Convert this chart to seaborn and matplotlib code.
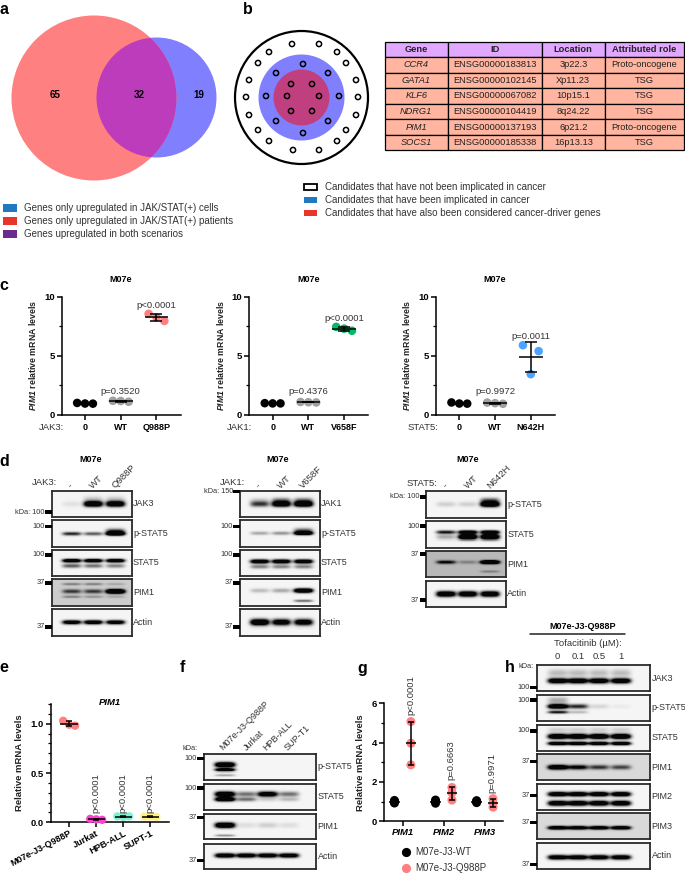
import numpy as np
import pandas as pd
import matplotlib
matplotlib.use('Agg')
import matplotlib.pyplot as plt
from matplotlib.patches import Circle, Rectangle
import seaborn as sns

W, H = 685, 875

# values
VENN_COUNTS = [65, 32, 19]
LEGEND_A = ['Genes only upregulated in JAK/STAT(+) cells',
            'Genes only upregulated in JAK/STAT(+) patients',
            'Genes upregulated in both scenarios']
LEGEND_A_COLORS = ['#1F78C0', '#E8352B', '#6B2A90']
LEGEND_B = ['Candidates that have not been implicated in cancer',
            'Candidates that have been implicated in cancer',
            'Candidates that have also been considered cancer-driver genes']
TABLE_HEAD = ['Gene', 'ID', 'Location', 'Attributed role']
TABLE_GENES = ['CCR4', 'GATA1', 'KLF6', 'NDRG1', 'PIM1', 'SOCS1']
TABLE_IDS = ['ENSG00000183813', 'ENSG00000102145', 'ENSG00000067082',
             'ENSG00000104419', 'ENSG00000137193', 'ENSG00000185338']
TABLE_LOCS = ['3p22.3', 'Xp11.23', '10p15.1', '8q24.22', '6p21.2', '16p13.13']
TABLE_ROLES = ['Proto-oncogene', 'TSG', 'TSG', 'TSG', 'Proto-oncogene', 'TSG']

# schematic dots in panel b (pixel positions)
RING_OUTER = [(292, 44), (319, 44), (269, 52), (337, 52), (258, 63), (346, 63),
              (249, 80), (356, 80), (246, 97), (358, 97), (249, 115), (356, 115),
              (258, 130), (346, 130), (269, 141), (337, 141), (293, 150), (319, 150)]
RING_MID = [(303, 64), (276, 73), (328, 73), (266, 96), (339, 96), (276, 121),
            (328, 121), (303, 133)]
RING_INNER = [(291, 84), (312, 84), (287, 96), (319, 96), (291, 111), (312, 111)]

C1_LABELS = ['0', 'WT', 'Q988P']
C1_VALUES = [[1.02, 0.97, 0.96], [1.2, 1.18, 1.12], [8.55, 8.25, 7.95]]
C1_P = ['p=0.3520', 'p<0.0001']
C2_LABELS = ['0', 'WT', 'V658F']
C2_VALUES = [[1.0, 0.98, 0.98], [1.1, 1.08, 1.06], [7.45, 7.3, 7.12]]
C2_P = ['p=0.4376', 'p<0.0001']
C3_LABELS = ['0', 'WT', 'N642H']
C3_VALUES = [[1.06, 0.97, 0.96], [1.05, 1.0, 0.95], [5.9, 3.45, 5.4]]
C3_P = ['p=0.9972', 'p=0.0011']

E_LABELS = ['M07e-J3-Q988P', 'Jurkat', 'HPB-ALL', 'SUPT-1']
E_VALUES = [[1.03, 0.99, 0.98], [0.035, 0.03, 0.025], [0.06, 0.055, 0.06], [0.06, 0.06, 0.055]]
E_COLORS = ['#FF8080', '#FF40D0', '#80F0D0', '#FFF080']
E_P = ['p<0.0001', 'p<0.0001', 'p<0.0001']

G_GENES = ['PIM1', 'PIM2', 'PIM3']
G_WT = [[1.06, 1.0, 0.93], [1.08, 1.0, 0.92], [1.05, 1.0, 0.95]]
G_MUT = [[5.07, 3.97, 2.87], [1.72, 1.45, 1.08], [1.15, 0.92, 0.72]]
G_P = ['p<0.0001', 'p=0.6663', 'p=0.9971']

# blots: one list per membrane, bands as (height, thickness, strength per lane)
D1_JAK3 = [(.5, .10, [.05, 1, .95]), (.36, .14, [0, .15, .15])]
D1_PSTAT = [(.52, .07, [.55, .4, 1]), (.44, .11, [0, 0, .6])]
D1_STAT = [(.42, .07, [1, 1, 1]), (.62, .08, [.4, .35, .3])]
D1_PIM = [(.45, .08, [.4, .4, 1.2]), (.18, .05, [.2, .2, .1]), (.65, .05, [.2, .15, .1])]
D1_ACT = [(.5, .08, [.9, .95, .9])]
D2_JAK = [(.5, .1, [.5, 1, 1.1]), (.36, .1, [.1, .3, .3])]
D2_PSTAT = [(.5, .07, [.2, .25, 1.1]), (.4, .1, [0, 0, .4])]
D2_STAT = [(.45, .08, [1, 1, 1]), (.65, .08, [.3, .3, .3])]
D2_PIM = [(.42, .08, [.15, .2, 1.2]), (.8, .05, [0, 0, .35])]
D2_ACT = [(.5, .12, [1.1, .9, .9])]
D3_PSTAT = [(.5, .1, [.1, .1, 1.2]), (.35, .1, [0, 0, .4])]
D3_STAT = [(.42, .07, [.6, 1, 1]), (.6, .1, [.2, 1.2, 1.2])]
D3_PIM = [(.42, .07, [.5, .15, 1.1]), (.78, .05, [0, 0, .15])]
D3_ACT = [(.5, .1, [1, 1, 1])]
F_PSTAT = [(.42, .1, [1.2, 0, 0, 0]), (.62, .06, [1, 0, 0, 0]), (.82, .05, [.2, 0, 0, 0])]
F_STAT = [(.4, .1, [1.1, .35, .95, .35]), (.6, .08, [1.1, .35, .1, .15])]
F_PIM = [(.45, .1, [1.1, .06, .1, .06]), (.85, .05, [.25, 0, 0, 0])]
F_ACT = [(.47, .09, [1, .95, .95, .95])]
H_JAK = [(.6, .1, [1, 1, 1, 1]), (.3, .15, [.15, .15, .15, .15])]
H_PSTAT = [(.43, .09, [1.1, .55, .08, .03]), (.65, .06, [.6, .15, 0, 0]), (.2, .13, [.2, 0, 0, 0])]
H_STAT = [(.45, .1, [1.1, 1.1, 1.1, 1.1]), (.72, .07, [1, 1, 1, 1]), (.2, .1, [.1, .1, .1, .1])]
H_PIM1 = [(.5, .09, [1, .65, .45, .4])]
H_PIM2 = [(.4, .09, [1, 1, 1, 1]), (.75, .1, [1, 1, 1, 1])]
H_PIM3 = [(.56, .07, [.95, .9, .9, .9])]
H_ACT = [(.56, .09, [.95, .95, .95, .95])]

sns.set_theme(style='ticks')
plt.rcParams['font.family'] = ['Liberation Sans', 'DejaVu Sans']
plt.rcParams['text.color'] = '#222222'
plt.rcParams['mathtext.fontset'] = 'custom'
plt.rcParams['mathtext.bfit'] = 'Liberation Sans:italic:bold'

fig = plt.figure(figsize=(W / 100, H / 100), dpi=100)


def place(x0, y0, x1, y1):
    return fig.add_axes([x0 / W, 1 - y1 / H, (x1 - x0) / W, (y1 - y0) / H])


ov = fig.add_axes([0, 0, 1, 1], zorder=10)
ov.set_xlim(0, W)
ov.set_ylim(H, 0)
ov.axis('off')
ov.patch.set_alpha(0)

# panel letters
for s, x, y in [('a', 4, 9), ('b', 248, 9), ('c', 4, 286), ('d', 4, 461),
                ('e', 4, 668), ('f', 182, 667), ('g', 362, 669), ('h', 510, 667)]:
    ov.text(x, y, s, fontsize=11.5, fontweight='bold', color='black', ha='center', va='center')

# a: venn
red = Circle((94, 98), 82.5, fc='#FF8080', ec='none')
blue = Circle((156.5, 97.5), 60, fc='#8080FF', ec='none')
both = Circle((156.5, 97.5), 60, fc='#BC3CBC', ec='none')
ov.add_patch(blue)
ov.add_patch(red)
ov.add_patch(both)
both.set_clip_path(Circle((94, 98), 82.5, transform=ov.transData))
for v, x in zip(VENN_COUNTS, [55, 139, 199]):
    ov.text(x, 94.5, str(v), fontsize=7, fontweight='bold', color='black', ha='center', va='center')
for i, (t, c) in enumerate(zip(LEGEND_A, LEGEND_A_COLORS)):
    y = 208 + i * 13
    ov.add_patch(Rectangle((3.5, y - 3.7), 14, 7.4, fc=c, ec='none'))
    ov.text(24, y, t, fontsize=7.05, va='center', color='#333333')

# b: nested circles
ov.add_patch(Circle((301.5, 97.5), 66.5, fc='white', ec='black', lw=1.6))
ov.add_patch(Circle((301.5, 97.5), 43, fc='#8080FF', ec='none'))
ov.add_patch(Circle((301.5, 97.5), 28, fc='#BF3F7F', ec='none'))
dots = np.array(RING_OUTER + RING_MID + RING_INNER)
ov.scatter(dots[:, 0], dots[:, 1], s=14, fc='none', ec='black', lw=1.1)
for i, (t, c) in enumerate(zip(LEGEND_B, ['white', '#1F78C0', '#E8352B'])):
    y = 187 + i * 13
    ov.add_patch(Rectangle((304.5, y - 3.2), 12.5, 6.4, fc=c, ec='black' if i == 0 else 'none', lw=1.3))
    ov.text(325, y, t, fontsize=7.05, va='center', color='#333333')

# b: table
tab_ax = place(384.6, 41.7, 684, 150.3)
tab_ax.axis('off')
rows = list(zip(TABLE_GENES, TABLE_IDS, TABLE_LOCS, TABLE_ROLES))
tab = tab_ax.table(cellText=rows, colLabels=TABLE_HEAD, cellLoc='center', bbox=[0, 0, 1, 1],
                   colWidths=[63.4, 93.5, 63.5, 79])
tab.auto_set_font_size(False)
for (r, c), cell in tab.get_celld().items():
    cell.set_linewidth(0.9)
    cell.set_edgecolor('black')
    cell.PAD = 0.02
    cell.get_text().set_fontsize(6.7)
    if r == 0:
        cell.set_facecolor('#E0A8FF')
        cell.get_text().set_fontweight('bold')
    else:
        cell.set_facecolor('#FFB5A0')
        if c == 0:
            cell.get_text().set_fontstyle('italic')


def mean_sd(ax, x, vals, half, cap):
    m, sd = np.mean(vals), np.std(vals, ddof=1)
    ax.hlines(m, x - half, x + half, color='black', lw=1.1, zorder=8)
    ax.errorbar([x], [m], yerr=[sd], color='black', ecolor='black', lw=1.1, capsize=cap, capthick=1.1, zorder=8)


def style_axes(ax):
    sns.despine(ax=ax)
    for s in ['left', 'bottom']:
        ax.spines[s].set_linewidth(1.1)
        ax.spines[s].set_color('black')
    ax.patch.set_alpha(0)
    ax.tick_params(axis='both', which='major', length=3.6, width=1.1, color='black', pad=1.5, labelsize=6.8)
    ax.tick_params(axis='y', which='minor', left=True, length=2.2, width=0.9, color='black')
    for t in ax.get_yticklabels() + ax.get_xticklabels():
        t.set_fontweight('bold')
        t.set_color('black')
    ax.set_xlabel('')


def scatter_panel(x0, values, labels, pvals, prefix, mut_color, p_y):
    ax = place(x0, 296.7, x0 + 119, 415)
    spread = [-0.22, 0, 0.22]
    rows = []
    for i, vals in enumerate(values):
        for j, v in enumerate(vals):
            rows.append({'pos': i + spread[j], 'value': v, 'group': labels[i]})
    df = pd.DataFrame(rows)
    sns.scatterplot(data=df, x='pos', y='value', hue='group', ax=ax, s=38, linewidth=0, legend=False,
                    palette=dict(zip(labels, ['black', '#A0A0A0', mut_color])), clip_on=False, zorder=3)
    for i, vals in enumerate(values):
        mean_sd(ax, i, vals, 0.33, 4.3)
    ax.set_xlim(-0.653, 2.678)
    ax.set_ylim(0, 10)
    ax.set_yticks([0, 5, 10])
    ax.set_yticks([2.5, 7.5], minor=True)
    ax.set_xticks(range(3))
    ax.set_xticklabels(labels)
    ax.set_ylabel('$\\bfit{PIM1}$ relative mRNA levels', fontsize=6.3, fontweight='bold', color='#222222')
    ax.yaxis.set_label_coords(-0.2, 0.5)
    style_axes(ax)
    ax.tick_params(axis='x', labelsize=6.5, pad=2)
    left = x0 + 23.3
    for i, (p, y) in enumerate(zip(pvals, p_y)):
        ov.text(left + (i + 1) * 35.7, y, p, fontsize=6.8, ha='center', va='center', color='#333333')
    ov.text(left + 35.7, 279, 'M07e', fontsize=6.5, fontweight='bold', ha='center', va='center', color='black')
    ov.text(x0 + 2.5, 427.5, prefix, fontsize=6.8, ha='right', va='center', color='#333333')


scatter_panel(61.7, C1_VALUES, C1_LABELS, C1_P, 'JAK3:', '#FF8080', [391, 306])
scatter_panel(249.3, C2_VALUES, C2_LABELS, C2_P, 'JAK1:', '#00B96B', [392, 318.5])
scatter_panel(436, C3_VALUES, C3_LABELS, C3_P, 'STAT5:', '#4DA3FF', [392, 336.5])


def blot(x0, y0, x1, y1, bands, lanes, background=.96, label=None, band_px=10):
    ax = place(x0, y0, x1, y1)
    h, w = int(y1 - y0) * 2, int(x1 - x0) * 2
    yy = (np.arange(h) + .5) / h
    xx = (np.arange(w) + .5) / w
    dark = np.zeros((h, w))
    half = band_px / (x1 - x0)
    for pos, thick, strength in bands:
        prof_y = np.exp(-((yy - pos) / thick) ** 2)
        for lane, s in zip(lanes, strength):
            prof_x = np.exp(-((xx - lane) / half) ** 4)
            dark += s * 1.5 * np.outer(prof_y, prof_x)
    img = np.clip(background - dark, 0.02, 1)
    sns.heatmap(img, ax=ax, cmap='gray', vmin=0, vmax=1, cbar=False, xticklabels=False, yticklabels=False, rasterized=True)
    ax.tick_params(length=0)
    for s in ax.spines.values():
        s.set_visible(True)
        s.set_linewidth(1.3)
        s.set_edgecolor('#2A2A2A')
    if label:
        ov.text(x1 + 1.5, (y0 + y1) / 2, label, fontsize=6.5, va='center', color='#333333')


def kda(x, y, label, prefix=False):
    ov.add_patch(Rectangle((x - 6.5, y - 1.6), 6.5, 3.2, fc='black', ec='none'))
    txt = ('kDa: ' if prefix else '') + label
    ov.text(x - 7, y, txt, fontsize=5.3, ha='right', va='center', color='#333333')


LANES3 = [.248, .52, .80]
ROWS_D = [(490.7, 517.3), (520, 546.7), (549.7, 576), (579, 606), (609, 635.7)]
for x0, panels, names in [(52, [D1_JAK3, D1_PSTAT, D1_STAT, D1_PIM, D1_ACT], ['JAK3', 'p-STAT5', 'STAT5', 'PIM1', 'Actin']),
                          (240, [D2_JAK, D2_PSTAT, D2_STAT, D2_PIM, D2_ACT], ['JAK1', 'p-STAT5', 'STAT5', 'PIM1', 'Actin'])]:
    for (y0, y1), b, n in zip(ROWS_D, panels, names):
        bg = .8 if (b is D1_PIM) else .96
        blot(x0, y0, x0 + 79.5, y1, b, LANES3, background=bg, label=n, band_px=9.5)
ROWS_D3 = [(491, 517.7), (521, 547.7), (551, 577.3), (580.7, 607.3)]
for (y0, y1), b, n in zip(ROWS_D3, [D3_PSTAT, D3_STAT, D3_PIM, D3_ACT], ['p-STAT5', 'STAT5', 'PIM1', 'Actin']):
    blot(426.4, y0, 505.7, y1, b, LANES3, background=.72 if b is D3_PIM else .96, label=n, band_px=9.5)

for x, y, l, pre in [(52, 512, '100', True), (52, 526.7, '100', False), (52, 555, '100', False),
                     (52, 583, '37', False), (52, 627, '37', False),
                     (240, 491.7, '150', True), (240, 526.7, '100', False), (240, 555, '100', False),
                     (240, 583, '37', False), (240, 627, '37', False),
                     (426.4, 497, '100', True), (426.4, 526, '100', False), (426.4, 554, '37', False),
                     (426.4, 600, '37', False)]:
    kda(x, y, l, pre)

for x0, mut, prefix, px in [(52, 'Q988P', 'JAK3:', 57), (240, 'V658F', 'JAK1:', 245), (426.4, 'N642H', 'STAT5:', 437)]:
    ov.text(x0 + (38.7 if x0 == 52 else 38 if x0 == 240 else 41.6), 459, 'M07e', fontsize=6.5,
            fontweight='bold', ha='center', va='center', color='black')
    ov.text(px, 482.5 if x0 < 400 else 483.5, prefix, fontsize=6.8, ha='right', va='center', color='#333333')
    for frac, t in zip(LANES3, ['-', 'WT', mut]):
        ov.text(x0 + frac * 79.5 - 2, 487, t, fontsize=6.8, rotation=45, rotation_mode='anchor',
                ha='left', va='center', color='#333333')

# e
ax = place(51, 704, 169.3, 822.3)
rows = []
spread = [-0.22, 0, 0.22]
for i, vals in enumerate(E_VALUES):
    for j, v in enumerate(vals):
        rows.append({'pos': i + spread[j], 'value': v, 'group': E_LABELS[i]})
sns.scatterplot(data=pd.DataFrame(rows), x='pos', y='value', hue='group', palette=dict(zip(E_LABELS, E_COLORS)),
                s=36, linewidth=0, legend=False, ax=ax, clip_on=False, zorder=3)
for i, vals in enumerate(E_VALUES):
    mean_sd(ax, i, vals, 0.32, 2.2)
ax.set_xlim(-0.67, 3.7)
ax.set_ylim(0, 1.2)
ax.set_yticks([0, 0.5, 1.0])
ax.set_yticks(np.arange(0, 1.21, 0.1), minor=True)
ax.set_xticks(range(4))
ax.set_xticklabels(E_LABELS, rotation=28, ha='right', rotation_mode='anchor')
ax.set_ylabel('Relative mRNA levels', fontsize=6.8, fontweight='bold', color='#222222')
ax.yaxis.set_label_coords(-0.229, 0.5)
style_axes(ax)
ax.tick_params(axis='y', labelsize=6.8)
ax.tick_params(axis='x', labelsize=6.6, pad=1)
ov.text(110, 702.5, 'PIM1', fontsize=6.8, fontweight='bold', fontstyle='italic', ha='center', va='center', color='black')
for x, p in zip([96, 123.3, 150.3], E_P):
    ov.text(x, 813, p, fontsize=6.8, rotation=90, ha='center', va='bottom', color='#333333')

# f
LANES_F = [.19, .38, .57, .76]
ROWS_F = [(754, 779.7), (783.7, 810), (813.7, 839.3), (843.7, 869)]
for (y0, y1), b, n in zip(ROWS_F, [F_PSTAT, F_STAT, F_PIM, F_ACT], ['p-STAT5', 'STAT5', 'PIM1', 'Actin']):
    blot(203.7, y0, 316, y1, b, LANES_F, label=n)
for y, l in [(758.3, '100'), (788, '100'), (817.7, '37'), (860.7, '37')]:
    kda(203.7, y, l)
ov.text(190, 749, 'kDa:', fontsize=5.3, ha='center', va='center', color='#333333')
for x, t in zip([221, 245, 264, 286], E_LABELS[:3] + ['SUP-T1']):
    ov.text(x, 749, t, fontsize=6.5, rotation=45, rotation_mode='anchor', ha='left', va='center', color='#333333')

# g
ax = place(384.3, 703.3, 503.3, 821.3)
g_rows = []
for name, table in [('M07e-J3-WT', G_WT), ('M07e-J3-Q988P', G_MUT)]:
    for gene, vals in zip(G_GENES, table):
        g_rows += [{'gene': gene, 'value': v, 'cell': name} for v in vals]
g_df = pd.DataFrame(g_rows)
sns.stripplot(data=g_df, x='gene', y='value', hue='cell', order=G_GENES, dodge=True, jitter=False,
              palette={'M07e-J3-WT': 'black', 'M07e-J3-Q988P': '#FF8080'}, size=6.5, linewidth=0,
              legend=False, ax=ax, clip_on=False, zorder=3)
for i in range(3):
    mean_sd(ax, i - 0.2, G_WT[i], 0.13, 2.2)
    mean_sd(ax, i + 0.2, G_MUT[i], 0.13, 2.2)
ax.set_xlim(-0.447, 2.45)
ax.set_ylim(0, 6)
ax.set_yticks([0, 2, 4, 6])
ax.set_yticks([1, 3, 5], minor=True)
ax.set_ylabel('Relative mRNA levels', fontsize=6.8, fontweight='bold', color='#222222')
ax.yaxis.set_label_coords(-0.162, 0.5)
style_axes(ax)
ax.tick_params(axis='both', labelsize=6.8)
for t in ax.get_xticklabels():
    t.set_fontstyle('italic')
ax.tick_params(axis='x', pad=1.5)
for x, y, p in zip([411, 451, 491.7], [715, 780, 792.7], G_P):
    ov.text(x, y, p, fontsize=6.8, rotation=90, ha='center', va='bottom', color='#333333')
for y, c, t in [(852, 'black', 'M07e-J3-WT'), (868.3, '#FF8080', 'M07e-J3-Q988P')]:
    ov.scatter([406.3], [y], s=44, c=c, linewidths=0)
    ov.text(415, y, t, fontsize=7, va='center', color='#333333')

# h
LANES_H = [.183, .36, .546, .74]
ROWS_H = [(665, 691.3), (695, 721), (724.7, 750.7), (754.3, 780.3), (783.7, 810), (813.3, 839.3), (842.7, 869)]
for (y0, y1), b, n in zip(ROWS_H, [H_JAK, H_PSTAT, H_STAT, H_PIM1, H_PIM2, H_PIM3, H_ACT],
                          ['JAK3', 'p-STAT5', 'STAT5', 'PIM1', 'PIM2', 'PIM3', 'Actin']):
    blot(537, y0, 650, y1, b, LANES_H, background=.85 if (b is H_PIM1 or b is H_PIM3) else .96, label=n)
for y, l in [(687.7, '100'), (700, '100'), (731, '100'), (761.7, '37'), (795.7, '37'), (822.3, '37'), (864.3, '37')]:
    kda(537, y, l)
ov.text(526, 666, 'kDa:', fontsize=5.3, ha='center', va='center', color='#333333')
ov.text(583, 626.7, 'M07e-J3-Q988P', fontsize=6.5, fontweight='bold', ha='center', va='center', color='black')
ov.plot([530, 625], [634, 634], color='#222222', lw=1.1)
ov.text(588, 643, 'Tofacitinib (µM):', fontsize=6.8, ha='center', va='center', color='#333333')
for x, t in zip([557.7, 577.7, 598.7, 620.7], ['0', '0.1', '0.5', '1']):
    ov.text(x, 656.5, t, fontsize=6.8, ha='center', va='center', color='#333333')

fig.savefig('out.png', dpi=100)
